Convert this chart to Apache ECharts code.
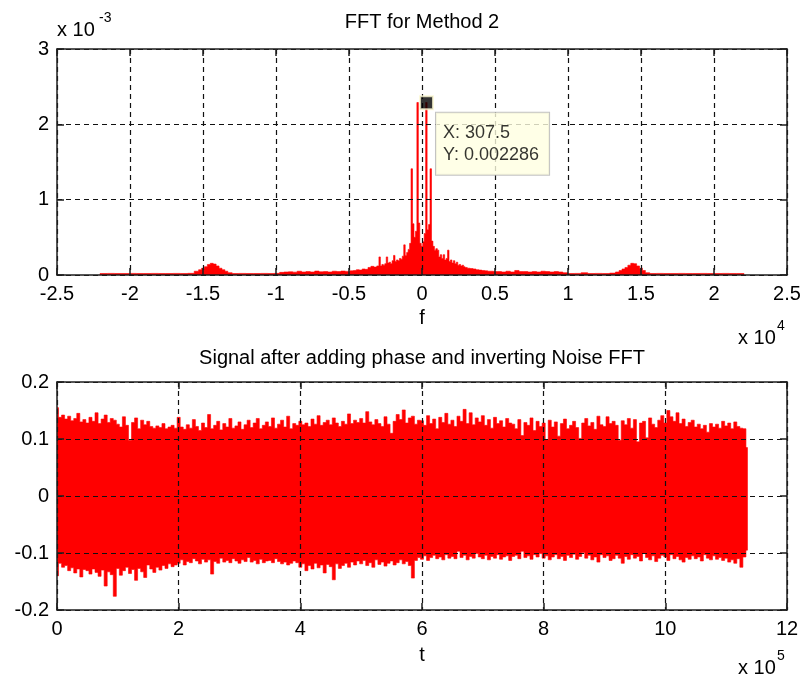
<!DOCTYPE html>
<html><head><meta charset="utf-8">
<script src="https://cdn.jsdelivr.net/npm/echarts@6/dist/echarts.min.js"></script>
<style>html,body{margin:0;padding:0;background:#fff}#c{width:804px;height:682px}</style>
</head><body><div id="c"></div>
<script>
// ---------- Top plot: FFT for Method 2 (magnitude in units of 1e-3) ----------
const fftFreq = [
 -22050,-21800,-21300,-20800,-20300,-19800,-19300,-18800,-18300,-17800,-17300,-16800,-16300,-15800,
 -15400,-15200,-15000,-14800,-14600,-14400,-14200,-14000,-13800,-13600,-13400,-13200,
 -12800,-12300,-11800,-11300,-10800,-10300,-9900,
 -9600,-9300,-9000,-8700,-8400,-8100,-7800,-7500,-7200,-6900,-6600,-6300,-6000,-5700,-5400,-5100,
 -4800,-4600,-4400,-4200,-4000,-3800,-3600,-3400,-3200,
 -3000,-2900,-2800,-2700,-2600,-2500,-2400,-2300,-2200,-2100,-2000,-1900,-1800,-1700,-1600,-1500,-1400,-1300,-1200,-1100,
 -1000,-900,-800,-700,-600,-500,-400,-300,-200,-100,0,100,200,300,400,500,600,700,800,900,
 1000,1100,1200,1300,1400,1500,1600,1700,1800,1900,2000,2100,2200,2300,2400,2500,2600,2700,2800,2900,3000,
 3200,3400,3600,3800,4000,4200,4400,4600,4800,5000,
 5300,5600,5900,6200,6500,6800,7100,7400,7700,8000,8300,8600,8900,9200,9500,9800,
 10200,10700,11100,11600,12100,12600,13100,
 13400,13600,13800,14000,14200,14400,14600,14800,15000,15200,15400,
 15800,16300,16800,17300,17800,18300,18800,19300,19800,20300,20800,21300,21800,22050
];
const fftMag = [
 0.020,0.020,0.021,0.020,0.020,0.021,0.020,0.020,0.021,0.020,0.020,0.021,0.020,0.022,
 0.05,0.07,0.09,0.11,0.14,0.155,0.145,0.12,0.09,0.07,0.05,0.03,
 0.020,0.021,0.020,0.020,0.021,0.020,0.022,
 0.035,0.040,0.042,0.038,0.050,0.040,0.045,0.040,0.052,0.042,0.045,0.040,0.050,0.045,0.052,0.048,
 0.055,0.060,0.070,0.065,0.080,0.075,0.100,0.115,0.105,
 0.12,0.24,0.12,0.14,0.13,0.15,0.24,0.16,0.17,0.15,0.19,0.26,0.18,0.20,0.19,0.22,0.21,0.25,0.40,0.26,
 0.30,0.34,0.42,1.41,0.68,0.50,0.58,2.29,0.69,0.42,0.38,0.44,0.55,2.29,0.60,0.67,1.41,0.45,0.38,0.33,
 0.35,0.33,0.24,0.27,0.22,0.27,0.20,0.22,0.33,0.18,0.20,0.16,0.19,0.15,0.17,0.13,0.14,0.12,0.13,0.11,0.10,
 0.09,0.085,0.08,0.07,0.065,0.06,0.055,0.05,0.05,0.045,
 0.045,0.040,0.050,0.040,0.060,0.045,0.045,0.040,0.045,0.040,0.050,0.045,0.040,0.045,0.040,0.030,
 0.020,0.021,0.030,0.020,0.021,0.020,0.025,
 0.04,0.06,0.08,0.10,0.13,0.155,0.15,0.12,0.09,0.06,0.03,
 0.020,0.021,0.020,0.020,0.021,0.020,0.020,0.021,0.020,0.020,0.021,0.020,0.020,0.020
];
const datatipX = 307.5;
const datatipY = 0.002286;
const fftXTicks = { min: -25000, max: 25000, interval: 5000 };
const fftYTicks = { min: 0, max: 3, interval: 1 };

// ---------- Bottom plot: signal envelope, one max/min pair per 5000 samples ----------
const sigStep = 5000;
const sigUpper = [
 0.155,0.138,0.142,0.135,0.140,0.132,0.136,0.145,0.130,0.134,
 0.128,0.138,0.131,0.146,0.127,0.135,0.142,0.129,0.136,0.133,
 0.126,0.121,0.139,0.124,0.098,0.129,0.137,0.118,0.133,0.125,
 0.131,0.122,0.119,0.123,0.120,0.127,0.118,0.121,0.124,0.119,
 0.138,0.121,0.117,0.125,0.119,0.134,0.122,0.115,0.128,0.120,
 0.143,0.118,0.124,0.131,0.116,0.127,0.121,0.136,0.119,0.123,
 0.130,0.117,0.125,0.133,0.120,0.128,0.136,0.118,0.124,0.130,
 0.122,0.137,0.119,0.126,0.133,0.121,0.140,0.118,0.127,0.124,
 0.131,0.125,0.128,0.122,0.135,0.126,0.141,0.124,0.129,0.133,
 0.125,0.137,0.128,0.122,0.131,0.126,0.144,0.127,0.133,0.129,
 0.136,0.128,0.148,0.130,0.125,0.134,0.127,0.122,0.139,0.126,
 0.110,0.131,0.143,0.134,0.151,0.128,0.137,0.140,0.126,0.133,
 0.132,0.124,0.141,0.127,0.135,0.118,0.138,0.129,0.145,0.126,
 0.133,0.122,0.140,0.131,0.152,0.127,0.146,0.125,0.137,0.130,
 0.141,0.124,0.134,0.119,0.138,0.127,0.132,0.121,0.136,0.128,
 0.126,0.118,0.134,0.106,0.129,0.124,0.137,0.115,0.131,0.122,
 0.128,0.099,0.133,0.121,0.130,0.105,0.127,0.135,0.118,0.124,
 0.131,0.120,0.101,0.128,0.136,0.123,0.129,0.117,0.140,0.125,
 0.122,0.139,0.127,0.131,0.124,0.098,0.132,0.125,0.136,0.119,
 0.134,0.095,0.128,0.131,0.102,0.137,0.126,0.120,0.133,0.141,
 0.128,0.150,0.139,0.131,0.146,0.127,0.135,0.122,0.129,0.133,
 0.121,0.126,0.118,0.124,0.112,0.127,0.121,0.126,0.119,0.131,
 0.123,0.128,0.118,0.130,0.122,0.119,0.118,0.085
];
const sigLower = [
 -0.140,-0.118,-0.125,-0.122,-0.131,-0.126,-0.135,-0.128,-0.142,-0.129,
 -0.131,-0.137,-0.128,-0.134,-0.141,-0.130,-0.158,-0.133,-0.138,-0.176,
 -0.127,-0.139,-0.131,-0.125,-0.136,-0.129,-0.148,-0.127,-0.133,-0.143,
 -0.121,-0.128,-0.134,-0.125,-0.130,-0.122,-0.127,-0.119,-0.124,-0.121,
 -0.118,-0.112,-0.121,-0.115,-0.117,-0.110,-0.114,-0.119,-0.111,-0.116,
 -0.112,-0.137,-0.115,-0.118,-0.109,-0.116,-0.113,-0.117,-0.110,-0.114,
 -0.118,-0.112,-0.115,-0.108,-0.116,-0.113,-0.119,-0.111,-0.117,-0.114,
 -0.113,-0.117,-0.110,-0.115,-0.119,-0.116,-0.121,-0.118,-0.114,-0.117,
 -0.125,-0.119,-0.131,-0.122,-0.128,-0.118,-0.126,-0.121,-0.135,-0.120,
 -0.124,-0.147,-0.119,-0.127,-0.122,-0.118,-0.125,-0.116,-0.121,-0.114,
 -0.119,-0.113,-0.122,-0.117,-0.125,-0.112,-0.120,-0.116,-0.123,-0.118,
 -0.114,-0.121,-0.117,-0.112,-0.119,-0.115,-0.122,-0.144,-0.113,-0.108,
 -0.111,-0.105,-0.113,-0.108,-0.104,-0.110,-0.107,-0.112,-0.103,-0.109,
 -0.106,-0.110,-0.097,-0.108,-0.104,-0.112,-0.106,-0.109,-0.101,-0.107,
 -0.110,-0.104,-0.112,-0.106,-0.109,-0.103,-0.111,-0.107,-0.105,-0.113,
 -0.106,-0.104,-0.110,-0.097,-0.108,-0.105,-0.111,-0.103,-0.107,-0.101,
 -0.109,-0.105,-0.112,-0.107,-0.103,-0.110,-0.106,-0.113,-0.104,-0.108,
 -0.102,-0.111,-0.106,-0.099,-0.109,-0.104,-0.112,-0.107,-0.116,-0.103,
 -0.108,-0.105,-0.113,-0.110,-0.104,-0.109,-0.118,-0.106,-0.111,-0.103,
 -0.109,-0.106,-0.114,-0.101,-0.108,-0.112,-0.105,-0.115,-0.109,-0.104,
 -0.107,-0.113,-0.103,-0.110,-0.106,-0.112,-0.116,-0.108,-0.111,-0.105,
 -0.110,-0.107,-0.114,-0.103,-0.109,-0.112,-0.105,-0.111,-0.108,-0.113,
 -0.109,-0.116,-0.112,-0.118,-0.110,-0.125,-0.107,-0.095
];
const sigXTicks = { min: 0, max: 1200000, interval: 200000 };
const sigYTicks = { min: -0.2, max: 0.2, interval: 0.1 };

// ---------- build ----------
const FONT = "'Liberation Sans', Arial, Helvetica, sans-serif";
const RED = '#ff0000';
const AX = '#1e1e1e';

// bin edges: halfway between neighbouring sample positions
function binEdges(xs) {
  return xs.map((x, i) => {
    const prev = i > 0 ? xs[i-1] : x;
    const next = i < xs.length - 1 ? xs[i+1] : x;
    return [(prev + x) / 2, (x + next) / 2];
  });
}
const fftEdges = binEdges(fftFreq);
const sigT = sigUpper.map((u, i) => i * sigStep);
const sigEdges = binEdges(sigT);

function fmtNum(v, scale) { const r = +(v / scale).toFixed(3); return r === 0 ? '0' : String(r); }

function axisPair(kind, grid, ticks, fmt, name, nameGap) {
  const main = {
    type: 'value', gridIndex: grid, min: ticks.min, max: ticks.max, interval: ticks.interval,
    position: kind === 'x' ? 'bottom' : 'left',
    axisLine: { show: true, onZero: false, lineStyle: { color: AX, width: 1.5 } },
    axisTick: { show: true, inside: true, length: 7, lineStyle: { color: AX, width: 1.5 } },
    axisLabel: { show: true, formatter: fmt, color: '#000', fontFamily: FONT, fontSize: 20, margin: kind === 'x' ? 9 : 8 },
    splitLine: { show: true, lineStyle: { color: '#111', width: 1.2, type: [5, 4] } },
    z: 3
  };
  if (name) {
    main.name = name; main.nameLocation = 'middle'; main.nameGap = nameGap;
    main.nameTextStyle = { color: '#000', fontFamily: FONT, fontSize: 20 };
  }
  const twin = {
    type: 'value', gridIndex: grid, min: ticks.min, max: ticks.max, interval: ticks.interval,
    position: kind === 'x' ? 'top' : 'right',
    axisLine: { show: true, onZero: false, lineStyle: { color: AX, width: 1.5 } },
    axisTick: { show: true, inside: true, length: 7, lineStyle: { color: AX, width: 1.5 } },
    axisLabel: { show: false }, splitLine: { show: false }, z: 3
  };
  return [main, twin];
}

const xAxes = [
  ...axisPair('x', 0, fftXTicks, v => fmtNum(v, 1e4), 'f', 33),
  ...axisPair('x', 1, sigXTicks, v => fmtNum(v, 1e5), 't', 35)
];
const yAxes = [
  ...axisPair('y', 0, fftYTicks, v => fmtNum(v, 1), null),
  ...axisPair('y', 1, sigYTicks, v => fmtNum(v, 1), null)
];

// one filled polygon: top edge follows `top` values across bins, bottom edge follows `bottom`
function envelopeSeries(xi, yi, edges, top, bottom) {
  return {
    type: 'custom', xAxisIndex: xi, yAxisIndex: yi, clip: true, z: 2, silent: true,
    data: [[edges[0][0], 0]],
    renderItem: (params, api) => {
      const pts = [];
      for (let i = 0; i < edges.length; i++) {
        pts.push(api.coord([edges[i][0], top[i]]));
        pts.push(api.coord([edges[i][1], top[i]]));
      }
      for (let i = edges.length - 1; i >= 0; i--) {
        const b = Array.isArray(bottom) ? bottom[i] : bottom;
        pts.push(api.coord([edges[i][1], b]));
        pts.push(api.coord([edges[i][0], b]));
      }
      return { type: 'polygon', shape: { points: pts }, style: { fill: RED, stroke: RED, lineWidth: 0.6 } };
    }
  };
}

const option = {
  animation: false,
  backgroundColor: '#fff',
  grid: [
    { left: 57, top: 49, width: 730, height: 226 },
    { left: 57, top: 382, width: 730, height: 228 }
  ],
  xAxis: xAxes,
  yAxis: yAxes,
  series: [
    envelopeSeries(0, 0, fftEdges, fftMag, 0),
    envelopeSeries(2, 2, sigEdges, sigUpper, sigLower),
    {
      type: 'scatter', xAxisIndex: 0, yAxisIndex: 0, z: 10,
      symbol: 'rect', symbolSize: 13,
      itemStyle: { color: '#000', borderColor: '#fbf7d2', borderWidth: 2 },
      data: [[datatipX, datatipY * 1000]],
      label: {
        show: true, position: 'right', distance: 2, offset: [0, 41],
        formatter: () => 'X: ' + datatipX + '\nY: ' + datatipY,
        fontFamily: FONT, fontSize: 18, lineHeight: 22, color: '#000',
        backgroundColor: '#ffffe1', borderColor: '#b4b4b4', borderWidth: 1,
        padding: [9, 10, 9, 7]
      }
    }
  ],
  graphic: [
    { type: 'text', x: 422, y: 22, style: { text: 'FFT for Method 2', font: '20px ' + FONT, fill: '#000', textAlign: 'center', textVerticalAlign: 'middle', verticalAlign: 'middle' } },
    { type: 'text', x: 422, y: 358, style: { text: 'Signal after adding phase and inverting Noise FFT', font: '20px ' + FONT, fill: '#000', textAlign: 'center', textVerticalAlign: 'middle', verticalAlign: 'middle' } },
    { type: 'text', x: 57, y: 30, style: { text: 'x 10', font: '20px ' + FONT, fill: '#000', textAlign: 'left', textVerticalAlign: 'middle', verticalAlign: 'middle' } },
    { type: 'text', x: 99, y: 18, style: { text: '-3', font: '14px ' + FONT, fill: '#000', textAlign: 'left', textVerticalAlign: 'middle', verticalAlign: 'middle' } },
    { type: 'text', x: 738, y: 338, style: { text: 'x 10', font: '20px ' + FONT, fill: '#000', textAlign: 'left', textVerticalAlign: 'middle', verticalAlign: 'middle' } },
    { type: 'text', x: 777, y: 326, style: { text: '4', font: '14px ' + FONT, fill: '#000', textAlign: 'left', textVerticalAlign: 'middle', verticalAlign: 'middle' } },
    { type: 'text', x: 738, y: 668, style: { text: 'x 10', font: '20px ' + FONT, fill: '#000', textAlign: 'left', textVerticalAlign: 'middle', verticalAlign: 'middle' } },
    { type: 'text', x: 777, y: 656, style: { text: '5', font: '14px ' + FONT, fill: '#000', textAlign: 'left', textVerticalAlign: 'middle', verticalAlign: 'middle' } }
  ]
};

const chart = echarts.init(document.getElementById('c'), null, { renderer: 'canvas' });
chart.setOption(option);
</script>
</body></html>
